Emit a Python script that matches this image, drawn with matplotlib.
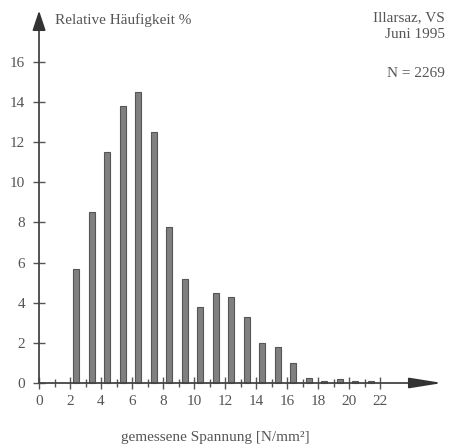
import numpy as np
import matplotlib
matplotlib.use("Agg")
import matplotlib.pyplot as plt

# bin centres [N/mm2] and relative frequency [%]
spannung = np.array([2.5, 3.5, 4.5, 5.5, 6.5, 7.5, 8.5, 9.5, 10.5, 11.5, 12.5,
                     13.5, 14.5, 15.5, 16.5, 17.5, 18.5, 19.5, 20.5, 21.5])
haeufigkeit = np.array([5.7, 8.5, 11.5, 13.8, 14.5, 12.5, 7.8, 5.2, 3.8, 4.5, 4.3,
                        3.3, 2.0, 1.8, 1.0, 0.25, 0.12, 0.2, 0.1, 0.08])
x_ticks = np.arange(0, 23, 2)
y_ticks = np.arange(0, 17, 2)

plt.rcParams['font.family'] = ['Liberation Serif', 'DejaVu Serif']
grau = '#555555'

fig = plt.figure(figsize=(4.49, 4.48), dpi=100)
ax = fig.add_axes([0, 0, 1, 1])
ax.set_xlim(-2.52, 26.45)
ax.set_ylim(-3.24, 19.09)

ax.bar(spannung - 0.1, haeufigkeit, width=0.4, color='#808080',
       edgecolor='#555555', linewidth=0.8, zorder=2)

for s in ['top', 'right']:
    ax.spines[s].set_visible(False)
ax.spines['left'].set_position(('data', 0))
ax.spines['bottom'].set_position(('data', 0))
ax.spines['left'].set_bounds(0, 18.0)
ax.spines['bottom'].set_bounds(0, 25.0)
for s in ['left', 'bottom']:
    ax.spines[s].set_color('#444444')
    ax.spines[s].set_linewidth(1.3)

# arrow heads
ax.annotate('', xy=(0, 18.7), xytext=(0, 17.6),
            arrowprops=dict(arrowstyle='-|>,head_length=1.2,head_width=0.4',
                            color='#333333', lw=1.3))
ax.annotate('', xy=(26.2, 0), xytext=(24.0, 0),
            arrowprops=dict(arrowstyle='-|>,head_length=2.0,head_width=0.32',
                            color='#333333', lw=1.3))

ax.set_xticks(x_ticks)
ax.set_xticks(np.arange(1, 23, 2), minor=True)
ax.set_yticks(y_ticks)
ax.tick_params(axis='both', which='major', direction='inout', length=8,
               width=1, colors='#555555', labelcolor=grau, labelsize=11)
ax.tick_params(axis='x', which='minor', direction='inout', length=6,
               width=1, colors='#555555')
ax.tick_params(axis='y', pad=6)
ax.tick_params(axis='x', pad=5)

ax.text(1.0, 18.1, 'Relative Häufigkeit %', fontsize=11, color=grau,
        va='center', ha='left')
ax.text(26.2, 18.2, 'Illarsaz, VS', fontsize=11, color=grau, ha='right', va='center')
ax.text(26.2, 17.35, 'Juni 1995', fontsize=11, color=grau, ha='right', va='center')
ax.text(26.2, 15.45, 'N = 2269', fontsize=11, color=grau, ha='right', va='center')
ax.text(11.35, -2.7, 'gemessene Spannung [N/mm²]', fontsize=11, color=grau,
        ha='center', va='center')

fig.savefig('out.png', dpi=100, facecolor='white')
